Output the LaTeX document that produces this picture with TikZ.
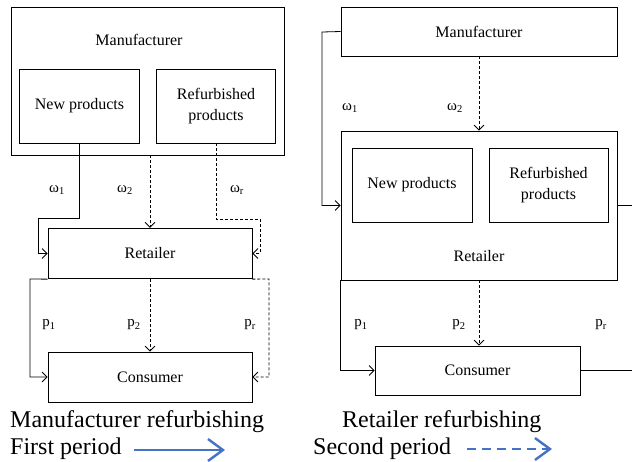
\documentclass[tikz,border=0pt]{standalone}
\usepackage{fontspec}
\setmainfont{Liberation Serif}
\usetikzlibrary{arrows.meta}

\definecolor{periodblue}{RGB}{68,114,196}

\tikzset{
  box/.style={draw, line width=0.8pt, inner sep=0pt, anchor=center},
  boxtext/.style={font=\fontsize{16}{18}\selectfont, align=center, inner sep=0pt},
  lbl/.style={font=\fontsize{15}{17}\selectfont, inner sep=0pt},
  legend/.style={font=\fontsize{24}{26}\selectfont, inner sep=0pt, anchor=base west},
  flow/.style={line width=0.8pt, -{Straight Barb[length=5pt,width=10pt]}},
  dflow/.style={flow, dash pattern=on 3pt off 2pt},
  plain/.style={line width=0.8pt},
  period/.style={periodblue, line width=2.4pt, -{Straight Barb[length=15pt,width=22pt,line width=2.4pt]}},
}

\begin{document}
\begin{tikzpicture}[x=1pt, y=-1pt]
\useasboundingbox (0,0) rectangle (632,461);
\clip (0,0) rectangle (632,461);

% ---------- Manufacturer refurbishing ----------
\node[box, minimum width=273pt, minimum height=148pt] (mfL) at (147.5,81) {};
\node[boxtext] (mfLt) at (139,40) {Manufacturer};
\node[box, boxtext, minimum width=119.5pt, minimum height=74pt] (newL) at (79.5,106) {New products};
\node[box, boxtext, minimum width=119.5pt, minimum height=74pt] (refL) at (216,106) {Refurbished\\[3pt]products};
\node[box, boxtext, minimum width=204pt, minimum height=50.5pt] (retL) at (150,253.5) {Retailer};
\node[box, boxtext, minimum width=204pt, minimum height=50pt] (conL) at (150,377) {Consumer};

\coordinate (bendL1) at (38,218);
\coordinate (bendL2) at (260,219);
\coordinate (bendL3) at (30,279);
\coordinate (bendL4) at (269,279);

\draw[flow] (newL.south) |- (bendL1) |- (retL.west);
\draw[dflow] (retL.north |- mfL.south) -- (retL.north);
\draw[dflow] (refL.south) |- (bendL2) |- (retL.east);
\draw[flow] (retL.south west) -- (bendL3) |- (conL.west);
\draw[dflow] (retL.south) -- (conL.north);
\draw[dflow] (retL.south east) -- (bendL4) |- (conL.east);

\node[lbl] (w1L) at (57,190) {ω\textsubscript{1}};
\node[lbl] (w2L) at (125,190) {ω\textsubscript{2}};
\node[lbl] (wrL) at (237,190) {ω\textsubscript{r}};
\node[lbl] (p1L) at (49,325) {p\textsubscript{1}};
\node[lbl] (p2L) at (134,325) {p\textsubscript{2}};
\node[lbl] (prL) at (250,325) {p\textsubscript{r}};

% ---------- Retailer refurbishing ----------
\node[box, boxtext, minimum width=276pt, minimum height=49pt] (mfR) at (479,31.5) {Manufacturer};
\node[box, minimum width=276pt, minimum height=149pt] (retR) at (479,205.5) {};
\node[boxtext] (retRt) at (479,256) {Retailer};
\node[box, boxtext, minimum width=120pt, minimum height=74pt] (newR) at (412,185) {New products};
\node[box, boxtext, minimum width=119pt, minimum height=74pt] (refR) at (548.5,185) {Refurbished\\[3pt]products};
\node[box, boxtext, minimum width=205pt, minimum height=49pt] (conR) at (477.5,370.5) {Consumer};

\coordinate (bendR1) at (322,32);
\coordinate (outR1) at (645,205.5);
\coordinate (outR2) at (645,370.5);

\draw[flow] (mfR.west) -- (bendR1) |- (retR.west);
\draw[dflow] (mfR.south) -- (retR.north);
\draw[plain] (retR.east) -- (outR1);
\draw[flow] (retR.south west) |- (conR.west);
\draw[dflow] (retR.south) -- (retR.south |- conR.north);
\draw[plain] (conR.east) -- (outR2);

\node[lbl] (w1R) at (350,108) {ω\textsubscript{1}};
\node[lbl] (w2R) at (455,108) {ω\textsubscript{2}};
\node[lbl] (p1R) at (361,325) {p\textsubscript{1}};
\node[lbl] (p2R) at (459,325) {p\textsubscript{2}};
\node[lbl] (prR) at (601,325) {p\textsubscript{r}};

% ---------- legend ----------
\node[legend] (capL) at (10,427) {Manufacturer refurbishing};
\node[legend] (perL) at (10,454) {First period};
\node[legend] (capR) at (342,427) {Retailer refurbishing};
\node[legend] (perR) at (313,454) {Second period};

\coordinate (a1s) at (134,450);
\coordinate (a1e) at (225,450);
\coordinate (a2s) at (467,449);
\coordinate (a2e) at (552,449);
\draw[period] (a1s) -- (a1e);
\draw[period, dash pattern=on 9pt off 6pt] (a2s) -- (a2e);
\end{tikzpicture}
\end{document}
